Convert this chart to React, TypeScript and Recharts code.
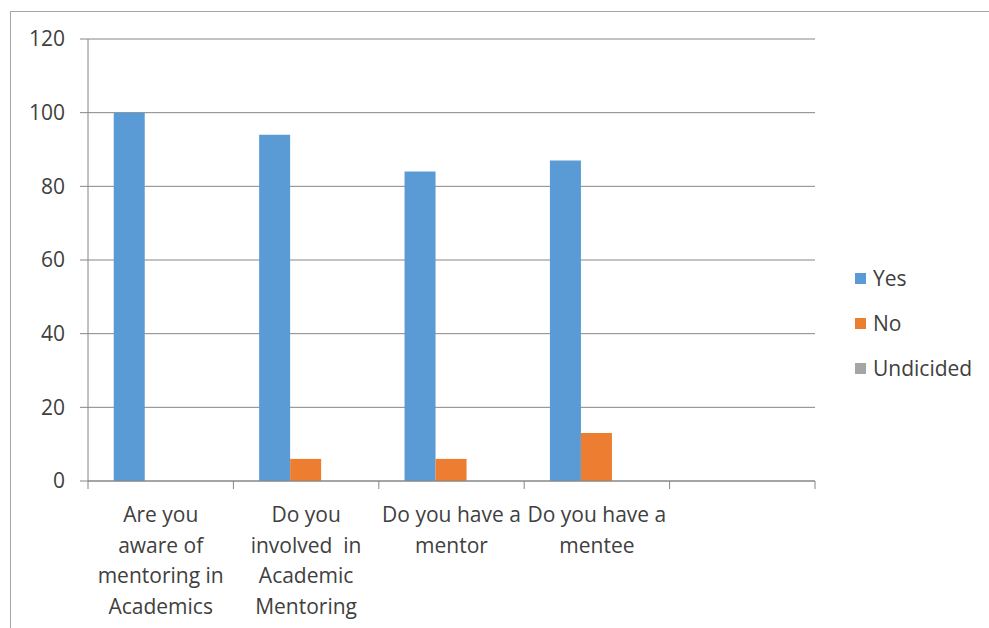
import React from "react";
import { BarChart, Bar, XAxis, YAxis, CartesianGrid } from "recharts";

const categories = [
  "Are you\naware of\nmentoring in\nAcademics",
  "Do you\ninvolved  in\nAcademic\nMentoring",
  "Do you have a\nmentor",
  "Do you have a\nmentee",
  "",
];
const yesValues = [100, 94, 84, 87, null];
const noValues = [0, 6, 6, 13, null];
const undecidedValues = [0, 0, 0, 0, null];
const yTicks = [0, 20, 40, 60, 80, 100, 120];

const series = [
  { key: "yes", name: "Yes", color: "#5B9BD5" },
  { key: "no", name: "No", color: "#ED7D31" },
  { key: "undecided", name: "Undicided", color: "#A5A5A5" },
];

const data = categories.map((c, i) => ({
  category: c,
  yes: yesValues[i],
  no: noValues[i],
  undecided: undecidedValues[i],
}));

const W = 989;
const H = 628;
const PLOT_LEFT = 88;
const PLOT_RIGHT = 815;
const PLOT_TOP = 39;
const PLOT_BOTTOM = 481;
const XAXIS_H = 140;
const BAND = (PLOT_RIGHT - PLOT_LEFT) / categories.length;
const FONT = "'Open Sans', Lato, sans-serif";
const TEXT = "#404040";
const LINE = "#868686";

const XTick = (props: any) => {
  const { x, y, payload, index } = props;
  const lines = String(payload.value).split("\n");
  return (
    <g>
      <line x1={x - BAND / 2} x2={x - BAND / 2} y1={y} y2={y + 8} stroke={LINE} strokeWidth={1} />
      {index === categories.length - 1 && (
        <line x1={x + BAND / 2} x2={x + BAND / 2} y1={y} y2={y + 8} stroke={LINE} strokeWidth={1} />
      )}
      <text x={x} y={y} textAnchor="middle" fill={TEXT} fontSize={21} fontFamily={FONT}>
        {lines.map((l, i) => (
          <tspan key={i} x={x} y={y + 41 + i * 30.5} style={{ whiteSpace: "pre" }}>
            {l}
          </tspan>
        ))}
      </text>
    </g>
  );
};

export default function App() {
  return (
    <div style={{ position: "absolute", left: 0, top: 0, width: W, height: H, background: "#fff", overflow: "hidden" }}>
      <div
        style={{
          position: "absolute",
          left: 10,
          top: 11,
          right: -2,
          bottom: -2,
          borderLeft: "1.5px solid #a6a6a6",
          borderTop: "1.5px solid #a6a6a6",
        }}
      />
      <div style={{ position: "absolute", left: 0, top: 0 }}>
        <BarChart
          width={W}
          height={H}
          data={data}
          barCategoryGap="17.7%"
          barGap={0}
          margin={{ top: PLOT_TOP, right: W - PLOT_RIGHT, bottom: H - PLOT_BOTTOM - XAXIS_H, left: 0 }}
        >
          <CartesianGrid vertical={false} stroke={LINE} strokeWidth={1} />
          <XAxis
            dataKey="category"
            interval={0}
            tickLine={false}
            tickSize={0}
            tickMargin={0}
            height={XAXIS_H}
            axisLine={{ stroke: LINE, strokeWidth: 1 }}
            tick={<XTick />}
          />
          <YAxis
            width={PLOT_LEFT}
            domain={[0, 120]}
            ticks={yTicks}
            interval={0}
            tickSize={8}
            tickMargin={15}
            axisLine={{ stroke: LINE, strokeWidth: 1 }}
            tickLine={{ stroke: LINE, strokeWidth: 1 }}
            tick={{ fill: TEXT, fontSize: 21, fontFamily: FONT }}
          />
          {series.map((s) => (
            <Bar key={s.key} dataKey={s.key} name={s.name} fill={s.color} isAnimationActive={false} />
          ))}
        </BarChart>
      </div>
      <div style={{ position: "absolute", left: 855, top: 264, fontFamily: FONT, fontSize: 21, color: TEXT }}>
        {series.map((s) => (
          <div key={s.key} style={{ display: "flex", alignItems: "center", height: 28, marginBottom: 17 }}>
            <span style={{ display: "inline-block", width: 11, height: 11, background: s.color, marginRight: 7 }} />
            <span>{s.name}</span>
          </div>
        ))}
      </div>
    </div>
  );
}
